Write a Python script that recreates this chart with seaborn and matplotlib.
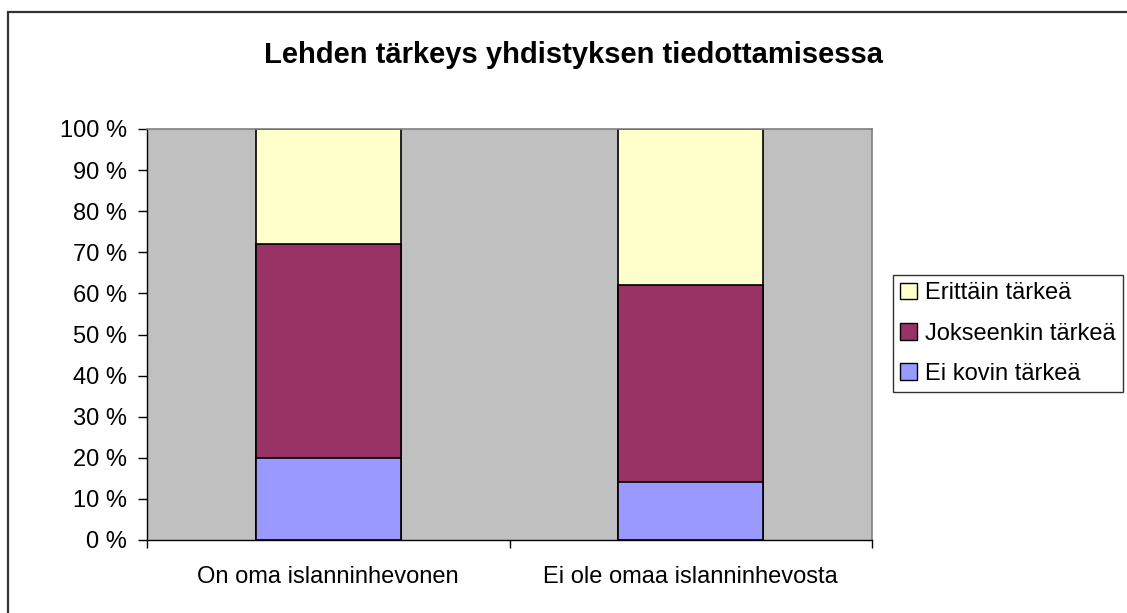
import matplotlib
matplotlib.use("Agg")
import matplotlib.pyplot as plt
import matplotlib.patches as mpatches
import seaborn as sns
import pandas as pd

# Arvot luettu kuvasta (prosentteja)
kategoriat = ["On oma islanninhevonen", "Ei ole omaa islanninhevosta"]
ei_kovin = [20, 14]
jokseenkin = [52, 48]
erittain = [28, 38]
sarjat = ["Ei kovin tärkeä", "Jokseenkin tärkeä", "Erittäin tärkeä"]
varit = ["#9999FF", "#993366", "#FFFFCC"]
y_ticks = list(range(0, 101, 10))

sns.set_style("white")
plt.rcParams["font.family"] = ["Liberation Sans", "DejaVu Sans"]
plt.rcParams["text.color"] = "black"
plt.rcParams["xtick.color"] = "black"
plt.rcParams["ytick.color"] = "black"
plt.rcParams["xtick.labelcolor"] = "black"
plt.rcParams["ytick.labelcolor"] = "black"

df = pd.DataFrame({"kategoria": kategoriat,
                   "Ei kovin tärkeä": ei_kovin,
                   "Jokseenkin tärkeä": jokseenkin,
                   "Erittäin tärkeä": erittain})
# kumulatiiviset summat pinottuja palkkeja varten
cum = df[sarjat].cumsum(axis=1)
cum["kategoria"] = df["kategoria"]

W, H = 1127, 613
fig = plt.figure(figsize=(W / 100, H / 100), dpi=100)
ax = fig.add_axes([147 / W, 1 - 540 / H, (872 - 147) / W, (540 - 129) / H])
ax.set_facecolor("#C0C0C0")

# piirretään korkein ensin, sitten matalammat päälle
for s, c in reversed(list(zip(sarjat, varit))):
    sns.barplot(data=cum, x="kategoria", y=s, color=c, width=0.4,
                edgecolor="black", linewidth=1.2, saturation=1, ax=ax)

ax.set_xlim(-0.5, 1.5)
ax.set_ylim(0, 100)
ax.set_yticks(y_ticks)
ax.set_yticklabels([f"{v} %" for v in y_ticks])
ax.set_xlabel("")
ax.set_ylabel("")
ax.set_xticks([0, 1])
ax.set_xticklabels(kategoriat)
ax.set_xticks([-0.5, 0.5, 1.5], minor=True)
ax.tick_params(axis="x", which="major", length=0, pad=19, labelsize=17, labelcolor="black")
ax.tick_params(axis="x", which="minor", length=6, width=1, color="black", direction="out", bottom=True)
ax.tick_params(axis="y", length=6.5, width=1, color="black", direction="out", left=True, pad=8,
               labelsize=17, labelcolor="black")

for side in ["top", "right"]:
    ax.spines[side].set_color("#808080")
    ax.spines[side].set_linewidth(1.2)
for side in ["left", "bottom"]:
    ax.spines[side].set_color("black")
    ax.spines[side].set_linewidth(1)

fig.text(574 / W, 1 - 55 / H, "Lehden tärkeys yhdistyksen tiedottamisessa",
         ha="center", va="center", fontsize=21, fontweight="bold", color="black")

kahvat = [mpatches.Patch(facecolor=c, edgecolor="black", linewidth=1, label=s)
          for s, c in zip(sarjat, varit)][::-1]
leg = fig.legend(handles=kahvat, loc="upper left", bbox_to_anchor=(893 / W, 1 - 275 / H),
                 frameon=True, fancybox=False, fontsize=17, borderaxespad=0,
                 handlelength=0.7, handleheight=0.7, handletextpad=0.35,
                 borderpad=0.3, labelspacing=0.78, labelcolor="black")
leg.get_frame().set_edgecolor("black")
leg.get_frame().set_linewidth(1)

# kaavion ulkoreunus (leikkautuu kuvan oikeasta ja alareunasta)
fig.patches.append(mpatches.Rectangle((8 / W, -0.1), 1.2, 1 - 12 / H + 0.1,
                                      transform=fig.transFigure, fill=False,
                                      edgecolor="#333333", linewidth=1.6))

fig.savefig("out.png", dpi=100)
